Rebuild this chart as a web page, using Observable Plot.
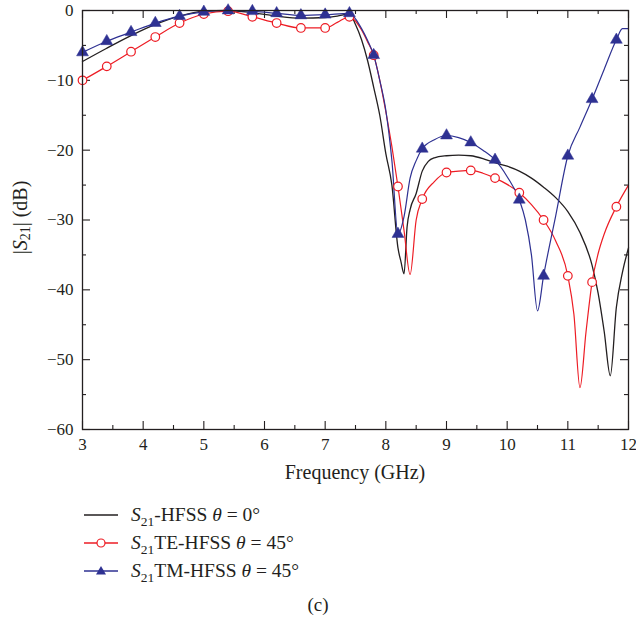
<!DOCTYPE html>
<html><head><meta charset="utf-8">
<script src="https://cdn.jsdelivr.net/npm/d3@7"></script>
<script src="https://cdn.jsdelivr.net/npm/@observablehq/plot@0.6"></script>
<style>
body{margin:0;background:#fff;font-family:'Liberation Serif','Times New Roman',Tinos,'DejaVu Serif',serif;color:#231f20;}
#wrap{width:636px;}
#wrap svg text{font-family:'Liberation Serif','Times New Roman',Tinos,'DejaVu Serif',serif;}
.legend{margin-top:11px;}
.leg{height:28px;display:flex;align-items:center;font-size:19.5px;white-space:nowrap;}
.leg svg{flex:none;}
.leg sub{font-size:13.5px;vertical-align:-5px;line-height:0;}
.cap{margin-top:6px;height:28px;line-height:28px;text-align:center;font-size:19px;}
</style></head><body><div id="wrap"></div>
<script>
// ---- data ----
const blackF  = [3,3.4,3.8,4.2,4.6,5.0,5.4,5.8,6.2,6.6,7.0,7.2,7.4,7.5,7.6,7.7,7.8,7.9,8.0,8.1,8.2,8.25,8.3,8.35,8.4,8.5,8.6,8.7,8.8,9.0,9.2,9.4,9.6,9.8,10.0,10.2,10.4,10.6,10.8,11.0,11.2,11.4,11.5,11.6,11.7,11.8,11.9,12];
const blackDB = [-7.3,-5.4,-3.6,-2.0,-0.8,-0.1,0,-0.3,-0.8,-1.1,-1.0,-0.8,-0.5,-2.0,-4.2,-7.2,-11,-15,-20.5,-25,-34,-36,-37.7,-31,-28.5,-26.2,-23.0,-21.6,-21.1,-20.8,-20.7,-20.8,-21.2,-21.8,-22.3,-23.0,-24.0,-25.3,-26.8,-28.8,-31.8,-36.5,-40.5,-46,-52.3,-42.5,-37.5,-34];

const redF  = [3,3.4,3.8,4.2,4.6,5.0,5.4,5.8,6.2,6.6,7.0,7.2,7.4,7.5,7.6,7.7,7.8,7.9,8.0,8.1,8.2,8.3,8.4,8.5,8.6,8.8,9.0,9.2,9.4,9.6,9.8,10.0,10.2,10.4,10.6,10.8,11.0,11.1,11.2,11.3,11.4,11.5,11.6,11.8,12];
const redDB = [-10,-8.0,-5.9,-3.8,-1.8,-0.5,-0.1,-0.9,-1.8,-2.5,-2.5,-1.7,-0.9,-1.5,-2.8,-4.5,-6.4,-10,-14.5,-19.5,-25.2,-31.5,-37.8,-30.0,-27.0,-24.5,-23.2,-23.0,-22.9,-23.3,-24.0,-24.9,-26.1,-27.8,-30.0,-33.0,-38.0,-43.5,-54,-46,-38.9,-34.8,-32.0,-28.1,-25.0];

const blueF  = [3,3.4,3.8,4.2,4.6,5.0,5.4,5.8,6.2,6.6,7.0,7.4,7.5,7.6,7.7,7.8,7.9,8.0,8.1,8.2,8.3,8.4,8.5,8.6,8.8,9.0,9.2,9.4,9.6,9.8,10.0,10.2,10.3,10.4,10.5,10.6,10.8,11.0,11.2,11.4,11.6,11.8,11.9,12];
const blueDB = [-6.0,-4.4,-3.1,-1.8,-0.8,-0.2,0,-0.1,-0.4,-0.7,-0.6,-0.4,-1.2,-2.6,-4.3,-6.4,-10,-14.3,-21.5,-32,-29.5,-24,-21.5,-19.8,-18.5,-17.9,-18.2,-18.9,-20.0,-21.4,-23.8,-27.1,-30,-35,-43,-38,-29.4,-20.8,-16.7,-12.7,-8.4,-4.2,-2.6,-2.6];

const markerF = [3,3.4,3.8,4.2,4.6,5.0,5.4,5.8,6.2,6.6,7.0,7.4,7.8,8.2,8.6,9.0,9.4,9.8,10.2,10.6,11.0,11.4,11.8];

const xTicks = [3,4,5,6,7,8,9,10,11,12];
const xMinor = [3.5,4.5,5.5,6.5,7.5,8.5,9.5,10.5,11.5];
const yTicks = [0,-10,-20,-30,-40,-50,-60];
const yMinor = [-5,-15,-25,-35,-45,-55];

// ---- layout ----
const W=636,H=490,ML=82,MR=8,MT=10,MB=61;
const PW=W-ML-MR, PH=H-MT-MB;
const INK="#231f20", RED="#ed1c24", BLUE="#2e3192";
const FONT="'Liberation Serif','Times New Roman',Tinos,'DejaVu Serif',serif";

const rows=(f,v)=>f.map((x,i)=>({f:x,db:v[i]}));
const black=rows(blackF,blackDB), red=rows(redF,redDB), blue=rows(blueF,blueDB);
const redM=red.filter(d=>markerF.includes(d.f));
const blueM=blue.filter(d=>markerF.includes(d.f));

const tk={stroke:INK,strokeWidth:1.1};
const chart=Plot.plot({
  width:W,height:H,marginLeft:ML,marginRight:MR,marginTop:MT,marginBottom:MB,
  style:{fontFamily:FONT,fontSize:"17px",color:INK,background:"white",overflow:"visible"},
  x:{domain:[3,12]},
  y:{domain:[-60,0]},
  marks:[
    Plot.axisX(xTicks,{tickSize:0,tickPadding:8,label:null,fontSize:17}),
    Plot.axisY(yTicks,{tickSize:0,tickPadding:9,label:null,fontSize:17}),
    Plot.tickX(xTicks,{x:d=>d,insetTop:PH-8,...tk}),
    Plot.tickX(xMinor,{x:d=>d,insetTop:PH-4,...tk}),
    Plot.tickX(xTicks,{x:d=>d,insetBottom:PH-8,...tk}),
    Plot.tickX(xMinor,{x:d=>d,insetBottom:PH-4,...tk}),
    Plot.tickY(yTicks,{y:d=>d,insetRight:PW-8,...tk}),
    Plot.tickY(yMinor,{y:d=>d,insetRight:PW-4,...tk}),
    Plot.tickY(yTicks,{y:d=>d,insetLeft:PW-8,...tk}),
    Plot.tickY(yMinor,{y:d=>d,insetLeft:PW-4,...tk}),
    Plot.line(black,{x:"f",y:"db",stroke:INK,strokeWidth:1.3,curve:"monotone-x"}),
    Plot.line(red,{x:"f",y:"db",stroke:RED,strokeWidth:1.2,curve:"monotone-x"}),
    Plot.line(blue,{x:"f",y:"db",stroke:BLUE,strokeWidth:1.2,curve:"monotone-x"}),
    Plot.dot(redM,{x:"f",y:"db",r:4.3,stroke:RED,fill:"white",strokeWidth:1.2}),
    Plot.dot(blueM,{x:"f",y:"db",r:4.4,symbol:"triangle",fill:BLUE,stroke:BLUE,strokeWidth:0.5}),
    Plot.frame({stroke:INK,strokeWidth:1.3})
  ]
});

const svg=d3.select(chart);
svg.append("text")
  .attr("x",(ML+W-MR)/2).attr("y",474)
  .attr("text-anchor","middle").attr("dominant-baseline","middle")
  .attr("font-size",20).attr("fill",INK)
  .text("Frequency (GHz)");
const yl=svg.append("text")
  .attr("transform",`translate(22,${MT+PH/2-2}) rotate(-90)`)
  .attr("text-anchor","middle").attr("dominant-baseline","middle")
  .attr("font-size",20).attr("fill",INK);
yl.append("tspan").text("|");
yl.append("tspan").attr("font-style","italic").text("S");
yl.append("tspan").attr("font-size",14).attr("dy","0.35em").text("21");
yl.append("tspan").attr("dy","-0.25em").text("| (dB)");

const wrap=document.getElementById("wrap");
wrap.appendChild(chart);

const legendItems=[
  {color:INK, marker:null, html:'<i>S</i><sub>21</sub>-HFSS <i>θ</i> = 0°'},
  {color:RED, marker:"circle", html:'<i>S</i><sub>21</sub>TE-HFSS <i>θ</i> = 45°'},
  {color:BLUE, marker:"triangle", html:'<i>S</i><sub>21</sub>TM-HFSS <i>θ</i> = 45°'}
];
const leg=document.createElement("div"); leg.className="legend";
for(const it of legendItems){
  const row=document.createElement("div"); row.className="leg";
  let m="";
  if(it.marker==="circle") m=`<circle cx="101" cy="14" r="4" fill="white" stroke="${it.color}" stroke-width="1.2"/>`;
  if(it.marker==="triangle") m=`<path d="M101,9 L106,17.5 L96,17.5 Z" fill="${it.color}"/>`;
  row.innerHTML=`<svg width="131" height="28"><line x1="84" x2="118" y1="14" y2="14" stroke="${it.color}" stroke-width="1.4"/>${m}</svg><span>${it.html}</span>`;
  leg.appendChild(row);
}
wrap.appendChild(leg);
const cap=document.createElement("div"); cap.className="cap"; cap.textContent="(c)";
wrap.appendChild(cap);
</script>
</body></html>
